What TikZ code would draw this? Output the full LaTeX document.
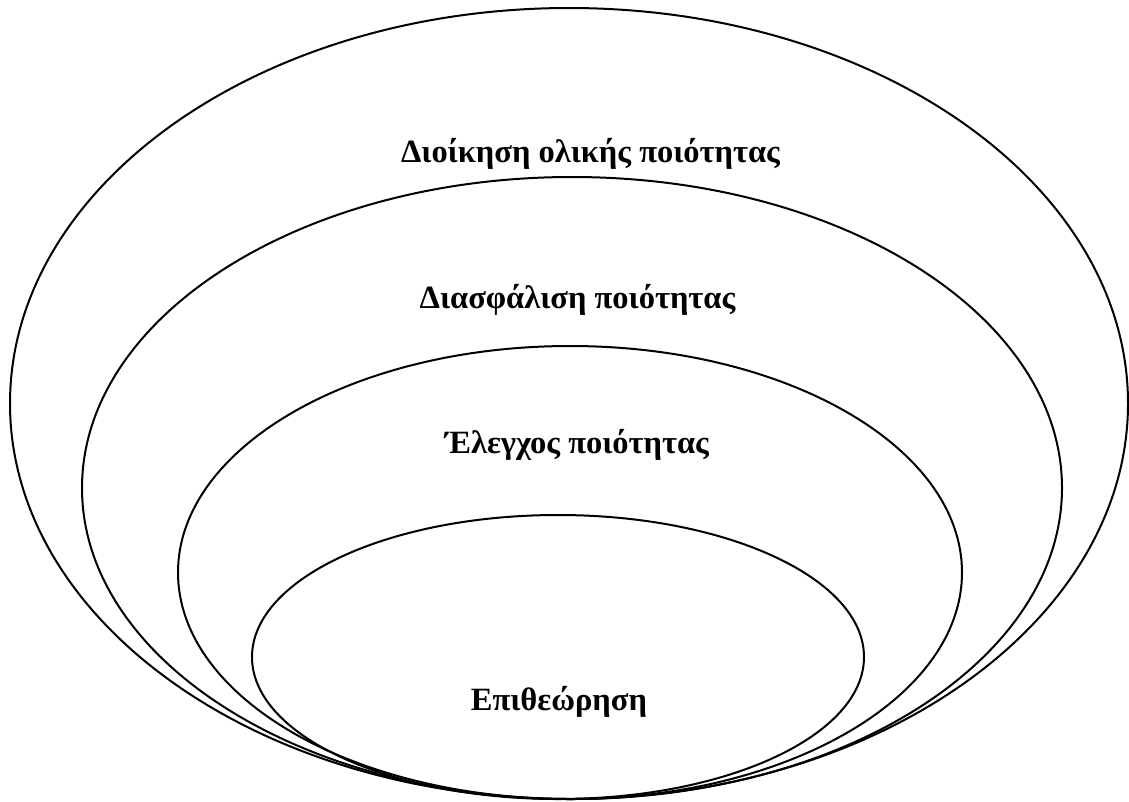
\documentclass[tikz,border=0pt]{standalone}
\usepackage{fontspec}
\setmainfont{Liberation Serif}
\usepackage{tikz}

\begin{document}
\begin{tikzpicture}[x=1pt,y=-1pt,
    anillo/.style={draw=black,line width=2pt},
    rotulo/.style={font=\fontsize{32.5}{38}\selectfont\bfseries,
                   anchor=base,inner sep=0pt}]
  \useasboundingbox (0,0) rectangle (1129,801);
  % las cuatro elipses se tocan en el punto más bajo
  \foreach \cx/\cy/\rx/\ry in {569/403.5/559/395.5,572/488/490/311,
                               570/572.5/392/226.5,558/657/306/142}
    \draw[anillo] (\cx,\cy) ellipse [x radius=\rx,y radius=\ry];

  \node[rotulo] (tqm) at (590.5,162) {Διοίκηση ολικής ποιότητας};
  \node[rotulo] (qa)  at (577.5,308) {Διασφάλιση ποιότητας};
  \node[rotulo] (qc)  at (577,453)   {Έλεγχος ποιότητας};
  \node[rotulo] (ins) at (559,710)   {Επιθεώρηση};
\end{tikzpicture}
\end{document}
